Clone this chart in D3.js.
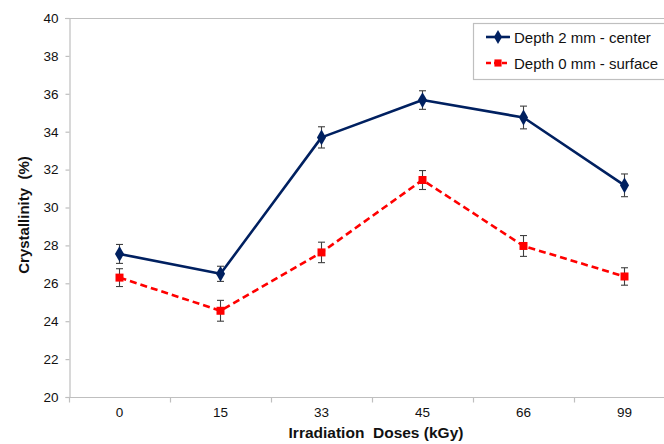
<!DOCTYPE html>
<html>
<head>
<meta charset="utf-8">
<script src="https://cdn.jsdelivr.net/npm/d3@7"></script>
<style>
  html, body { margin: 0; padding: 0; background: #fff; }
  svg { display: block; font-family: "Liberation Sans", Arial, sans-serif; }
</style>
</head>
<body>
<svg id="chart" width="664" height="444"></svg>
<script>
// Irradiation doses (kGy) on the category axis
const doses = ["0", "15", "33", "45", "66", "99"];

// Crystallinity (%) at each dose, with standard deviations
const centerValues  = [27.55, 26.5, 33.7, 35.67, 34.75, 31.17];
const centerErrors  = [0.5, 0.4, 0.56, 0.49, 0.6, 0.6];
const surfaceValues = [26.3, 24.55, 27.63, 31.45, 27.97, 26.36];
const surfaceErrors = [0.47, 0.55, 0.54, 0.5, 0.55, 0.46];

const yTicks = [20, 22, 24, 26, 28, 30, 32, 34, 36, 38, 40];

const seriesNames = ["Depth 2 mm - center", "Depth 0 mm - surface"];

const series = [
  { name: seriesNames[0], values: centerValues, errors: centerErrors,
    color: "#002060", dash: null, symbol: d3.symbolDiamond, size: 72 },
  { name: seriesNames[1], values: surfaceValues, errors: surfaceErrors,
    color: "#ff0000", dash: "7,4", symbol: d3.symbolSquare, size: 64 }
];

const svg = d3.select("#chart");
const plot = { left: 69, right: 675, top: 18, bottom: 397 };
const axisGray = "#bfbfbf";
const textColor = "#111";

const x = d3.scaleBand().domain(doses).range([plot.left, plot.right]);
const y = d3.scaleLinear().domain([20, 40]).range([plot.bottom, plot.top]);

// Top frame line of the plot area
svg.append("line")
  .attr("x1", plot.left - 4).attr("x2", 664)
  .attr("y1", plot.top + 0.5).attr("y2", plot.top + 0.5)
  .attr("stroke", axisGray).attr("stroke-width", 1.2);

// Y axis
const yAxis = svg.append("g")
  .attr("transform", `translate(${plot.left + 0.5},0)`)
  .call(d3.axisLeft(y).tickValues(yTicks).tickSize(4).tickPadding(7));
yAxis.select(".domain").attr("stroke", axisGray).attr("stroke-width", 1.2);
yAxis.selectAll(".tick line").attr("stroke", axisGray).attr("stroke-width", 1.2);
yAxis.selectAll(".tick text")
  .attr("fill", textColor).style("font-size", "13.5px")
  .style("font-family", "Liberation Sans, Arial, sans-serif");

// X axis: ticks sit on the category boundaries
const xAxisG = svg.append("g")
  .attr("transform", `translate(0,${plot.bottom + 0.5})`);
xAxisG.append("line")
  .attr("x1", plot.left).attr("x2", 664)
  .attr("stroke", axisGray).attr("stroke-width", 1.2);
xAxisG.selectAll("line.tick")
  .data(doses)
  .join("line")
  .attr("class", "tick")
  .attr("x1", d => x(d) + 0.5).attr("x2", d => x(d) + 0.5)
  .attr("y1", 0).attr("y2", 5)
  .attr("stroke", axisGray).attr("stroke-width", 1.2);
xAxisG.selectAll("text")
  .data(doses)
  .join("text")
  .attr("x", d => x(d) + x.bandwidth() / 2)
  .attr("y", 19)
  .attr("text-anchor", "middle")
  .attr("fill", textColor)
  .style("font-size", "13.5px")
  .text(d => d);

// Axis titles
svg.append("text")
  .attr("x", 376).attr("y", 438)
  .attr("text-anchor", "middle")
  .style("font-size", "15.5px").style("font-weight", "bold")
  .attr("fill", textColor)
  .style("white-space", "pre")
  .text("Irradiation  Doses (kGy)");

svg.append("text")
  .attr("transform", "translate(29,215) rotate(-90)")
  .attr("text-anchor", "middle")
  .style("font-size", "15px").style("font-weight", "bold")
  .attr("fill", textColor)
  .style("white-space", "pre")
  .text("Crystallinity  (%)");

const cx = d => x(d) + x.bandwidth() / 2;
const line = d3.line().x(d => cx(d.dose)).y(d => y(d.value));

series.forEach(s => {
  const pts = doses.map((dose, i) => ({ dose, value: s.values[i], err: s.errors[i] }));
  const g = svg.append("g");

  g.append("path")
    .datum(pts)
    .attr("d", line)
    .attr("fill", "none")
    .attr("stroke", s.color)
    .attr("stroke-width", 2.6)
    .attr("stroke-dasharray", s.dash)
    .attr("stroke-linejoin", "round");

  // Error bars
  const eb = g.selectAll("g.err").data(pts).join("g").attr("class", "err");
  eb.append("line")
    .attr("x1", d => cx(d.dose)).attr("x2", d => cx(d.dose))
    .attr("y1", d => y(d.value - d.err)).attr("y2", d => y(d.value + d.err))
    .attr("stroke", "#404040").attr("stroke-width", 1.1);
  ["-", "+"].forEach(sign => {
    eb.append("line")
      .attr("x1", d => cx(d.dose) - 3.5).attr("x2", d => cx(d.dose) + 3.5)
      .attr("y1", d => y(sign === "+" ? d.value + d.err : d.value - d.err))
      .attr("y2", d => y(sign === "+" ? d.value + d.err : d.value - d.err))
      .attr("stroke", "#404040").attr("stroke-width", 1.1);
  });

  // Markers
  g.selectAll("path.marker").data(pts).join("path")
    .attr("class", "marker")
    .attr("d", d3.symbol().type(s.symbol).size(s.size))
    .attr("transform", d => `translate(${cx(d.dose)},${y(d.value)})`)
    .attr("fill", s.color);
});

// Legend
const legend = svg.append("g");
legend.append("rect")
  .attr("x", 473.5).attr("y", 23.5)
  .attr("width", 200).attr("height", 56)
  .attr("fill", "#fff")
  .attr("stroke", axisGray).attr("stroke-width", 1.2);

series.forEach((s, i) => {
  const ly = 37 + i * 26;
  legend.append("line")
    .attr("x1", 486).attr("x2", 510)
    .attr("y1", ly).attr("y2", ly)
    .attr("stroke", s.color).attr("stroke-width", 2.6)
    .attr("stroke-dasharray", s.dash ? "5,3" : null);
  legend.append("path")
    .attr("d", d3.symbol().type(s.symbol).size(s.size * 0.8))
    .attr("transform", `translate(498,${ly})`)
    .attr("fill", s.color);
  legend.append("text")
    .attr("x", 514).attr("y", ly + 5.5)
    .style("font-size", "15px")
    .attr("fill", textColor)
    .text(s.name);
});
</script>
</body>
</html>
